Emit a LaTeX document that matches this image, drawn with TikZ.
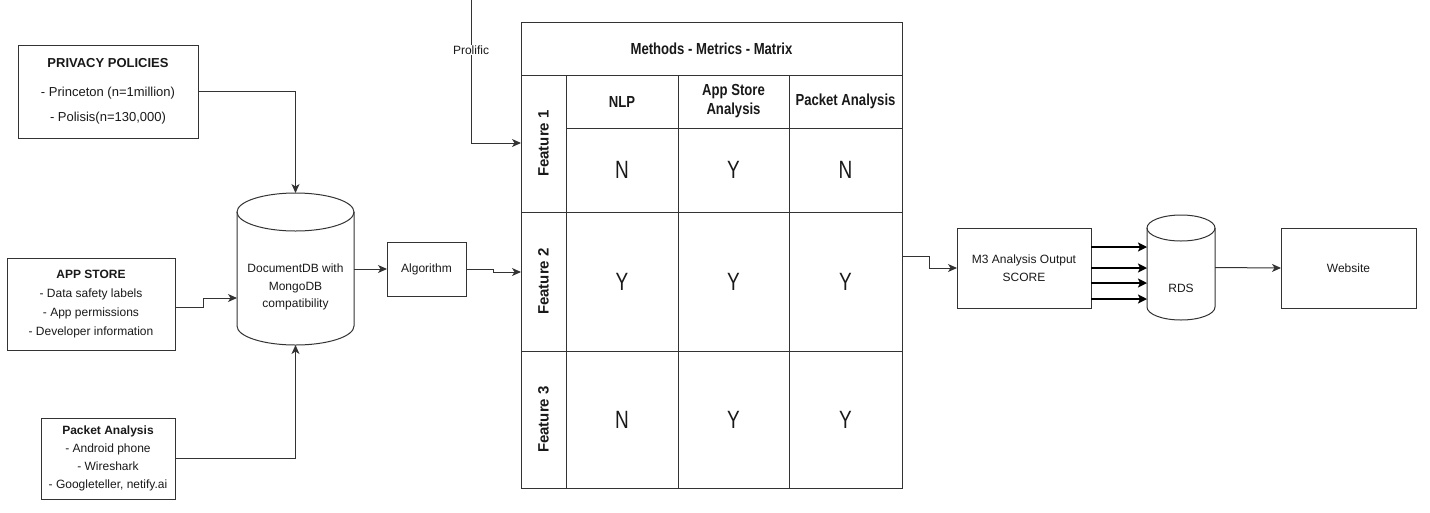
\documentclass[tikz,border=0pt]{standalone}
\usepackage{fontspec}
\setmainfont{Liberation Sans}
\newfontfamily\condfont[FakeStretch=0.82]{Liberation Sans}
\newfontfamily\ynfont[FakeStretch=0.76]{Liberation Sans}
\usetikzlibrary{arrows.meta}
\newcommand\tcell[7][]{%
  \pgfmathsetmacro\tcX{(#3+#5)/2}\pgfmathsetmacro\tcY{(#4+#6)/2}%
  \pgfmathsetmacro\tcW{#5-#3}\pgfmathsetmacro\tcH{#6-#4}%
  \node[cellbox, minimum width=\tcW pt, minimum height=\tcH pt, #1] (#2) at (\tcX,\tcY) {#7};}
\begin{document}
\begin{tikzpicture}[x=1pt,y=-1pt,
  line/.style={draw=black!80, line width=1pt},
  arr/.style={line, -{Stealth[length=9pt,width=8pt,inset=2.5pt]}},
  thickarr/.style={draw=black, line width=2pt, -{Stealth[length=9pt,width=9pt,inset=2pt]}},
  box/.style={draw=black!80, line width=1pt, inner sep=0pt, outer sep=0pt, align=center, text=black!90},
  cellbox/.style={draw=black!80, line width=1pt, inner sep=0pt, outer sep=0pt, align=center, text=black!90},
  hdr/.style={font=\condfont\bfseries\fontsize{16}{19}\selectfont},
  yn/.style={font=\ynfont\fontsize{25}{27}\selectfont},
  feat/.style={font=\bfseries\fontsize{15}{18}\selectfont},
  plain/.style={inner sep=0pt, align=center, text=black!90, font=\fontsize{12}{17.5}\selectfont}
]
\useasboundingbox (0,0) rectangle (1430,512);

% left source boxes
\node[box, minimum width=180pt, minimum height=93pt, font=\fontsize{13}{25}\selectfont] (priv) at (108,91.5)
  {\textbf{PRIVACY POLICIES}\\[4pt]- Princeton (n=1million)\\- Polisis(n=130,000)};
\node[box, minimum width=168pt, minimum height=92pt, font=\fontsize{12}{19}\selectfont] (app) at (91,304)
  {\textbf{APP STORE}\\- Data safety labels\\- App permissions\\- Developer information};
\node[box, minimum width=134pt, minimum height=81pt, font=\fontsize{12}{18}\selectfont] (pkt) at (108,458.5)
  {\textbf{Packet Analysis}\\- Android phone\\- Wireshark\\- Googleteller, netify.ai};

% DocumentDB cylinder
\node[inner sep=0pt, outer sep=0pt, minimum width=117pt, minimum height=152pt] (db) at (295.5,269) {};
\draw[line] (295.5,212) ellipse[x radius=58.5pt, y radius=19pt];
\draw[line] (237,212) -- (237,326) arc[start angle=180, end angle=360, x radius=58.5pt, y radius=19pt] -- (354,212);
\node[plain] (dbl) at (295.5,287) {DocumentDB with\\MongoDB\\compatibility};

% Algorithm
\node[box, minimum width=79pt, minimum height=54pt, font=\fontsize{12}{15}\selectfont] (alg) at (426.5,269) {Algorithm};

% table
\tcell[hdr]{title}{521}{22}{902}{75}{Methods - Metrics - Matrix}
\tcell[feat]{f1}{521}{75}{566}{212}{\rotatebox{90}{Feature 1}}
\tcell[feat]{f2}{521}{212}{566}{351}{\rotatebox{90}{Feature 2}}
\tcell[feat]{f3}{521}{351}{566}{488}{\rotatebox{90}{Feature 3}}
\tcell[hdr]{h1}{566}{75}{678}{128}{NLP}
\tcell[hdr]{h2}{678}{75}{789}{128}{App Store\\Analysis}
\tcell[hdr]{h3}{789}{75}{902}{128}{Packet Analysis}
\tcell[yn]{a11}{566}{128}{678}{212}{N}
\tcell[yn]{a12}{678}{128}{789}{212}{Y}
\tcell[yn]{a13}{789}{128}{902}{212}{N}
\tcell[yn]{a21}{566}{212}{678}{351}{Y}
\tcell[yn]{a22}{678}{212}{789}{351}{Y}
\tcell[yn]{a23}{789}{212}{902}{351}{Y}
\tcell[yn]{a31}{566}{351}{678}{488}{N}
\tcell[yn]{a32}{678}{351}{789}{488}{Y}
\tcell[yn]{a33}{789}{351}{902}{488}{Y}

% M3 output, RDS, website
\node[box, minimum width=134pt, minimum height=80pt, font=\fontsize{12}{18}\selectfont] (m3) at (1024,268) {M3 Analysis Output\\SCORE};
\node[inner sep=0pt, outer sep=0pt, minimum width=68pt, minimum height=105pt] (rds) at (1181,267.5) {};
\draw[line] (1181,228) ellipse[x radius=34pt, y radius=13pt];
\draw[line] (1147,228) -- (1147,307) arc[start angle=180, end angle=360, x radius=34pt, y radius=13pt] -- (1215,228);
\node[plain] (rdsl) at (1181,288) {RDS};
\node[box, minimum width=135pt, minimum height=80pt, font=\fontsize{12}{15}\selectfont] (web) at (1348.5,268) {Website};

% coordinates for free ends
\coordinate (ptop) at (471,0);
\coordinate (pin) at (521,143);
\coordinate (tin) at (521,272);
\coordinate (tout) at (902,256);
\coordinate (i1) at (1147,247);
\coordinate (i2) at (1147,268);
\coordinate (i3) at (1147,283);
\coordinate (i4) at (1147,299);

% connectors
\draw[arr] (priv.east) -| (db.north);
\draw[arr] ([yshift=-3pt]app.east) -- ++(28,0) |- ([yshift=-29pt]db.west);
\draw[arr] (pkt.east) -| (db.south);
\draw[arr] (db.east) -- (alg.west);
\draw[arr] (alg.east) -- ++(27,0) |- (tin);
\draw[arr] (ptop) |- (pin);
\node[fill=white, inner sep=1pt, font=\fontsize{12}{14}\selectfont, text=black!90] (prol) at (471,50) {Prolific};
\draw[arr] (tout) -- ++(27,0) |- (m3.west);
\draw[thickarr] (m3.east |- i1) -- (i1);
\draw[thickarr] (m3.east |- i2) -- (i2);
\draw[thickarr] (m3.east |- i3) -- (i3);
\draw[thickarr] (m3.east |- i4) -- (i4);
\draw[arr] (rds.east) -- (web.west);
\end{tikzpicture}
\end{document}
